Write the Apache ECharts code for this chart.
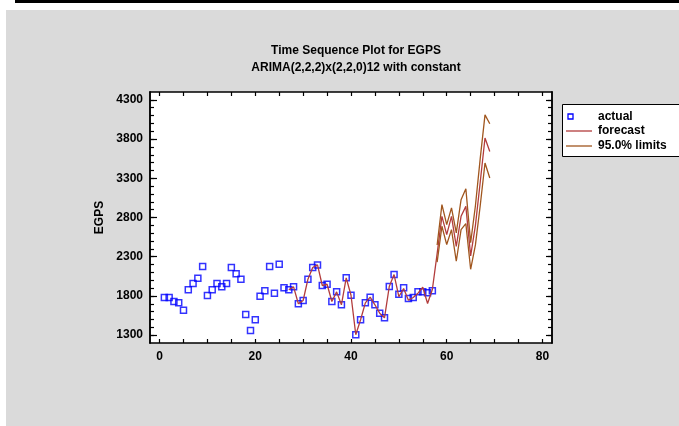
<!DOCTYPE html>
<html>
<head>
<meta charset="utf-8">
<script src="https://cdn.jsdelivr.net/npm/echarts@6/dist/echarts.min.js"></script>
<style>
html,body{margin:0;padding:0;background:#fff;}
#chart{width:679px;height:426px;}
</style>
</head>
<body>
<div id="chart"></div>
<script>
// ---- data ----
var actualStart = 1;
var actualValues = [1780,1780,1729,1712,1618,1878,1958,2026,2175,1805,
  1878,1958,1916,1958,2162,2082,2013,1563,1360,1496,
  1797,1865,2175,1835,2204,1903,1878,1916,1700,1742,
  2013,2162,2196,1933,1949,1729,1852,1687,2031,1809,
  1305,1496,1712,1784,1687,1580,1521,1920,2073,1822,
  1903,1767,1780,1852,1852,1840,1865];
var forecastStart = 27;
var forecastValues = [1878,1916,1700,1742,2013,2162,2196,1933,1949,1729,
  1852,1687,2031,1809,1305,1496,1712,1784,1687,1580,
  1521,1920,2073,1790,1895,1745,1780,1835,1911,1703,
  1882,
  2340,2815,2582,2815,2433,2815,2942,2310,2700,3250,3813,3642];
var limitsStart = 58;
var upperValues = [2450,2964,2709,2922,2603,3027,3167,2480,2950,3550,4109,3995];
var lowerValues = [2230,2688,2455,2645,2242,2645,2722,2140,2450,2950,3495,3304];
var xTickLabels = [0,20,40,60,80];
var yTickLabels = [1300,1800,2300,2800,3300,3800,4300];
var titleText = 'Time Sequence Plot for EGPS';
var subTitleText = 'ARIMA(2,2,2)x(2,2,0)12 with constant';
var legendNames = ['actual','forecast','95.0% limits'];

function pairs(start, vals){ return vals.map(function(v,i){ return [start+i, v]; }); }
function range(a,b,s){ var r=[]; for(var v=a; v<=b; v+=s) r.push(v); return r; }

var FONT = 'Liberation Sans, Arial, sans-serif';
var actualColor = '#0000ff';
var fcColor = '#b23c3c';
var limColor = '#a0561e';

var xMinorTicks = range(0,80,5);
var yMinorTicks = range(1300,4300,100);

var chart = echarts.init(document.getElementById('chart'), null, {renderer:'canvas'});
var lab = {fontFamily:FONT, fontWeight:'bold', fontSize:12, color:'#000'};
function plain(v){ return String(v); }

function xAx(pos){
  return {type:'value', min:-2, max:82, position:pos, gridIndex:0,
    axisLine:{show:true, onZero:false, lineStyle:{color:'#000', width:1.5}},
    axisTick:{show:true, inside:true, length:4, customValues:xMinorTicks, lineStyle:{color:'#000', width:1.2}},
    axisLabel:pos==='bottom' ? Object.assign({show:true, margin:8, customValues:xTickLabels, formatter:plain}, lab) : {show:false},
    splitLine:{show:false}};
}
function yAx(pos, ticks, len, showLabel, name){
  var o = {type:'value', min:1200, max:4400, position:pos, gridIndex:0,
    axisLine:{show:true, onZero:false, lineStyle:{color:'#000', width:1.5}},
    axisTick:{show:true, inside:true, length:len, customValues:ticks, lineStyle:{color:'#000', width:1.2}},
    axisLabel:showLabel ? Object.assign({show:true, margin:7, customValues:yTickLabels, formatter:plain}, lab) : {show:false},
    splitLine:{show:false}};
  if(name){ o.name=name; o.nameLocation='middle'; o.nameRotate=90; o.nameGap=30;
    o.nameTextStyle=Object.assign({}, lab); }
  return o;
}

var option = {
  backgroundColor:'#dadada',
  animation:false,
  title:{text:titleText+'\n'+subTitleText, left:351, top:37, textAlign:'center',
    textStyle:{fontFamily:FONT, fontWeight:'bold', fontSize:12, lineHeight:17, color:'#000'}},
  grid:{left:150, right:127, top:92, bottom:83, show:true, backgroundColor:'#fff', borderWidth:0, containLabel:false},
  xAxis:[xAx('bottom'), xAx('top')],
  yAxis:[yAx('left', yMinorTicks, 4, true, 'EGPS'), yAx('right', yMinorTicks, 4, false),
         yAx('left', yTickLabels, 7, false), yAx('right', yTickLabels, 6, false)],
  series:[
    {name:legendNames[0], type:'scatter', data:pairs(actualStart, actualValues), symbol:'rect', symbolSize:6,
      itemStyle:{color:'rgba(0,0,0,0)', borderColor:actualColor, borderWidth:1.5}, z:2},
    {name:legendNames[1], type:'line', data:pairs(forecastStart, forecastValues), symbol:'none',
      lineStyle:{color:fcColor, width:1.3}, z:3},
    {name:legendNames[2], type:'line', data:pairs(limitsStart, upperValues), symbol:'none',
      lineStyle:{color:limColor, width:1.3}, z:3},
    {name:legendNames[2]+' ', type:'line', data:pairs(limitsStart, lowerValues), symbol:'none',
      lineStyle:{color:limColor, width:1.3}, z:3}
  ],
  graphic:[
    {type:'rect', shape:{x:0, y:0, width:679, height:10}, style:{fill:'#fff'}, silent:true},
    {type:'rect', shape:{x:0, y:0, width:6, height:426}, style:{fill:'#fff'}, silent:true},
    {type:'rect', shape:{x:15, y:0, width:664, height:3}, style:{fill:'#000'}, silent:true},
    {type:'rect', shape:{x:562.5, y:104.5, width:130, height:52}, style:{fill:'#fff', stroke:'#000', lineWidth:1}, silent:true},
    {type:'rect', shape:{x:568, y:114, width:5, height:5}, style:{fill:'rgba(0,0,0,0)', stroke:actualColor, lineWidth:1.3}, silent:true},
    {type:'line', shape:{x1:566, y1:131, x2:592, y2:131}, style:{stroke:fcColor, lineWidth:1.3}, silent:true},
    {type:'line', shape:{x1:566, y1:146, x2:592, y2:146}, style:{stroke:limColor, lineWidth:1.3}, silent:true},
    {type:'text', x:598, y:117, style:{text:legendNames[0], fill:'#000', font:'bold 12px '+FONT, textVerticalAlign:'middle'}, silent:true},
    {type:'text', x:598, y:131, style:{text:legendNames[1], fill:'#000', font:'bold 12px '+FONT, textVerticalAlign:'middle'}, silent:true},
    {type:'text', x:598, y:146, style:{text:legendNames[2], fill:'#000', font:'bold 12px '+FONT, textVerticalAlign:'middle'}, silent:true}
  ]
};
chart.setOption(option);
</script>
</body>
</html>
